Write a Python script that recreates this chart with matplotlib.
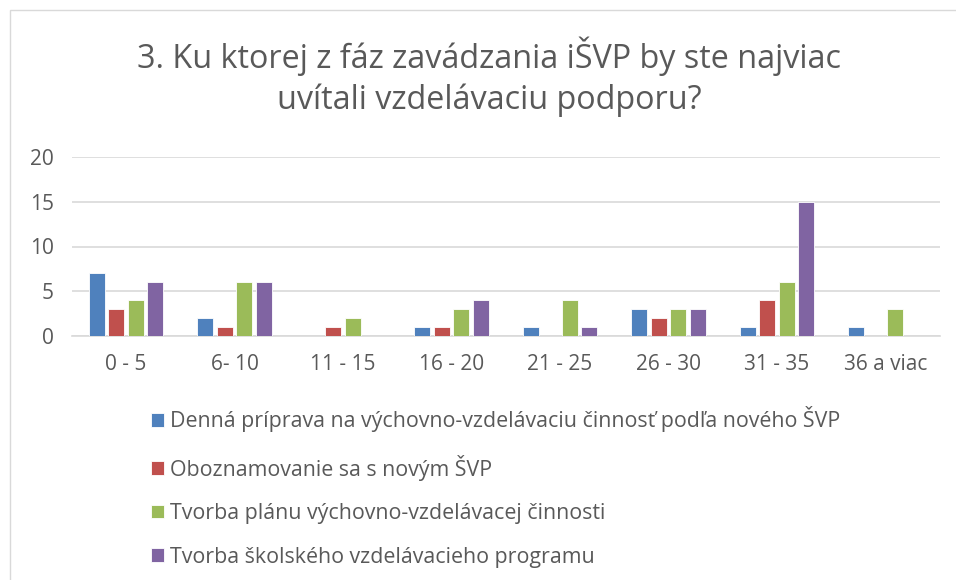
import numpy as np
import matplotlib
matplotlib.use("Agg")
import matplotlib.pyplot as plt
from matplotlib.patches import Rectangle

plt.rcParams["font.family"] = ["Open Sans", "DejaVu Sans"]

categories = ["0 - 5", "6- 10", "11 - 15", "16 - 20", "21 - 25", "26 - 30", "31 - 35", "36 a viac"]
series_names = [
    "Denná príprava na výchovno-vzdelávaciu činnosť podľa nového ŠVP",
    "Oboznamovanie sa s novým ŠVP",
    "Tvorba plánu výchovno-vzdelávacej činnosti",
    "Tvorba školského vzdelávacieho programu",
]
denna = [7, 2, 0, 1, 1, 3, 1, 1]
oboznamovanie = [3, 1, 1, 1, 0, 2, 4, 0]
plan = [4, 6, 2, 3, 4, 3, 6, 3]
program = [6, 6, 0, 4, 1, 3, 15, 0]
colors = ["#4F81BD", "#C0504D", "#9BBB59", "#8064A2"]

TEXT = "#595959"

fig = plt.figure(figsize=(9.56, 5.8), dpi=100)
ax = fig.add_axes([0.075, 0.421, 0.908, 0.308])

x = np.arange(len(categories))
pitch = 0.18
width = 0.145
handles = []
for i, (vals, col) in enumerate(zip([denna, oboznamovanie, plan, program], colors)):
    b = ax.bar(x + (i - 1.5) * pitch, vals, width, color=col,
               edgecolor="white", linewidth=0.6, zorder=3)
    handles.append(b)

ax.set_xlim(-0.5, len(categories) - 0.5)
ax.set_ylim(0, 20)
ax.set_yticks([0, 5, 10, 15, 20])
ax.set_xticks(x)
ax.set_xticklabels(categories)
ax.tick_params(axis="both", length=0, labelsize=15, colors=TEXT)
ax.tick_params(axis="x", pad=13)
ax.tick_params(axis="y", pad=13)
ax.grid(axis="y", color="#D9D9D9", linewidth=1.2, zorder=0)
for s in ["top", "right", "left"]:
    ax.spines[s].set_visible(False)
ax.spines["bottom"].set_color("#D9D9D9")
ax.spines["bottom"].set_linewidth(1.2)

fig.text(0.512, 0.903, "3. Ku ktorej z fáz zavádzania iŠVP by ste najviac",
         ha="center", va="center", fontsize=23.3, color=TEXT)
fig.text(0.512, 0.828, "uvítali vzdelávaciu podporu?",
         ha="center", va="center", fontsize=23.3, color=TEXT)

fig.legend(handles, series_names, loc="upper left", bbox_to_anchor=(0.147, 0.318),
           frameon=False, fontsize=15.4, labelcolor=TEXT, handlelength=0.6,
           handleheight=0.6, handletextpad=0.3, labelspacing=1.05, borderpad=0)

# outer chart border
fig.add_artist(Rectangle((10 / 956, -0.05), 1.2, 1 - 10 / 580 + 0.05,
                         transform=fig.transFigure, fill=False,
                         edgecolor="#D9D9D9", linewidth=1))

fig.savefig("out.png", dpi=100)
